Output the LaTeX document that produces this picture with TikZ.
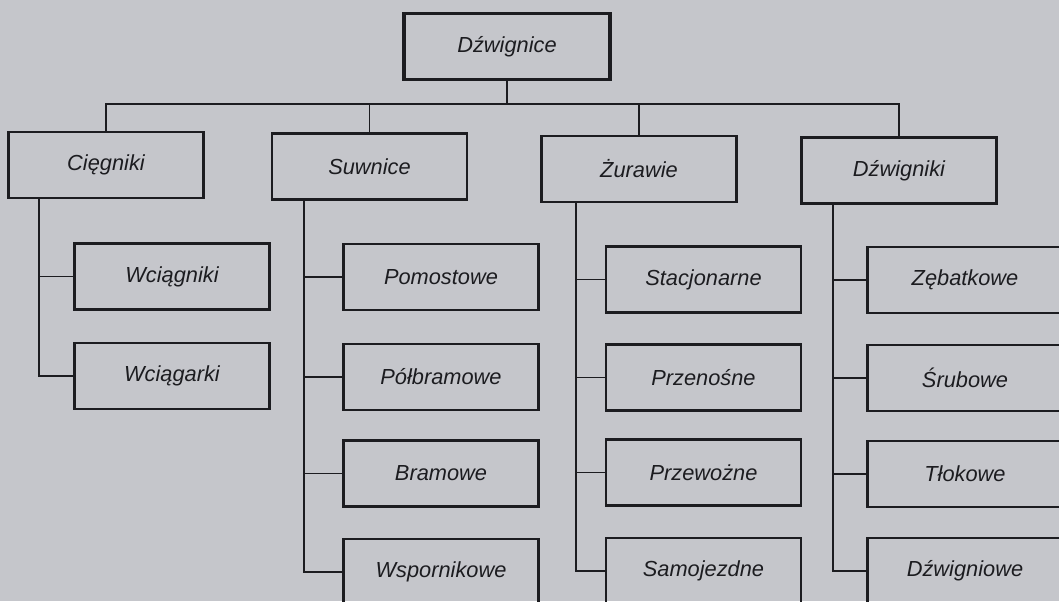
\documentclass[tikz,border=0pt]{standalone}
\usepackage{fontspec}
\setsansfont{Liberation Sans}
\usepackage{tikz}
\usetikzlibrary{positioning,calc}
\definecolor{scangray}{RGB}{197,198,203}
\definecolor{inkline}{RGB}{28,28,32}

\begin{document}
\begin{tikzpicture}[
    x=0.025cm, y=-0.025cm,
    box/.style={rectangle, draw=inkline, line width=1.5pt, minimum width=4.875cm, minimum height=1.65cm, align=center, font=\sffamily\itshape\fontsize{15.5}{18}\selectfont, text=inkline},
    rootbox/.style={box, line width=2.3pt, minimum width=5.15cm},
    link/.style={draw=inkline, line width=1.3pt},
]
    \useasboundingbox (0,0) rectangle (1059,601);
    \fill[scangray] (0,0) rectangle (1059,601);

    \node[rootbox] (root) at (507,46.5) {Dźwignice};

    \node[box] (cieg) at (106,165) {Cięgniki};
    \node[box] (suwn) at (369.5,166.5) {Suwnice};
    \node[box] (zuraw) at (639,169) {Żurawie};
    \node[box] (dzwk) at (899,170.5) {Dźwigniki};

    \node[box] (wcgn) at (172,276.5) {Wciągniki};
    \node[box] (wcgr) at (172,376) {Wciągarki};

    \node[box] (pomo) at (441,277) {Pomostowe};
    \node[box] (polb) at (441,377) {Półbramowe};
    \node[box] (bram) at (441,473.5) {Bramowe};
    \node[box] (wspo) at (441,572) {Wspornikowe};

    \node[box] (stac) at (703.5,279.5) {Stacjonarne};
    \node[box] (prze) at (703.5,377.5) {Przenośne};
    \node[box] (przw) at (703.5,472.5) {Przewożne};
    \node[box] (samo) at (703.5,571) {Samojezdne};

    \node[box] (zeba) at (965,280) {Zębatkowe};
    \node[box] (srub) at (965,378) {Śrubowe};
    \node[box] (tlok) at (965,474) {Tłokowe};
    \node[box] (dzwg) at (965,571) {Dźwigniowe};

    \coordinate (bus) at (0,104);
    \draw[link] (root.south) -- (root.south |- bus);
    \draw[link] (cieg.north) -- (cieg.north |- bus) -- (dzwk.north |- bus) -- (dzwk.north);
    \draw[link] (suwn.north) -- (suwn.north |- bus);
    \draw[link] (zuraw.north) -- (zuraw.north |- bus);

    \draw[link] ([xshift=-1.675cm]cieg.south) |- (wcgn.west);
    \draw[link] ([xshift=-1.675cm]cieg.south) |- (wcgr.west);

    \draw[link] ([xshift=-1.64cm]suwn.south) |- (pomo.west);
    \draw[link] ([xshift=-1.64cm]suwn.south) |- (polb.west);
    \draw[link] ([xshift=-1.64cm]suwn.south) |- (bram.west);
    \draw[link] ([xshift=-1.64cm]suwn.south) |- (wspo.west);

    \draw[link] ([xshift=-1.575cm]zuraw.south) |- (stac.west);
    \draw[link] ([xshift=-1.575cm]zuraw.south) |- (prze.west);
    \draw[link] ([xshift=-1.575cm]zuraw.south) |- (przw.west);
    \draw[link] ([xshift=-1.575cm]zuraw.south) |- (samo.west);

    \draw[link] ([xshift=-1.65cm]dzwk.south) |- (zeba.west);
    \draw[link] ([xshift=-1.65cm]dzwk.south) |- (srub.west);
    \draw[link] ([xshift=-1.65cm]dzwk.south) |- (tlok.west);
    \draw[link] ([xshift=-1.65cm]dzwk.south) |- (dzwg.west);
\end{tikzpicture}
\end{document}
